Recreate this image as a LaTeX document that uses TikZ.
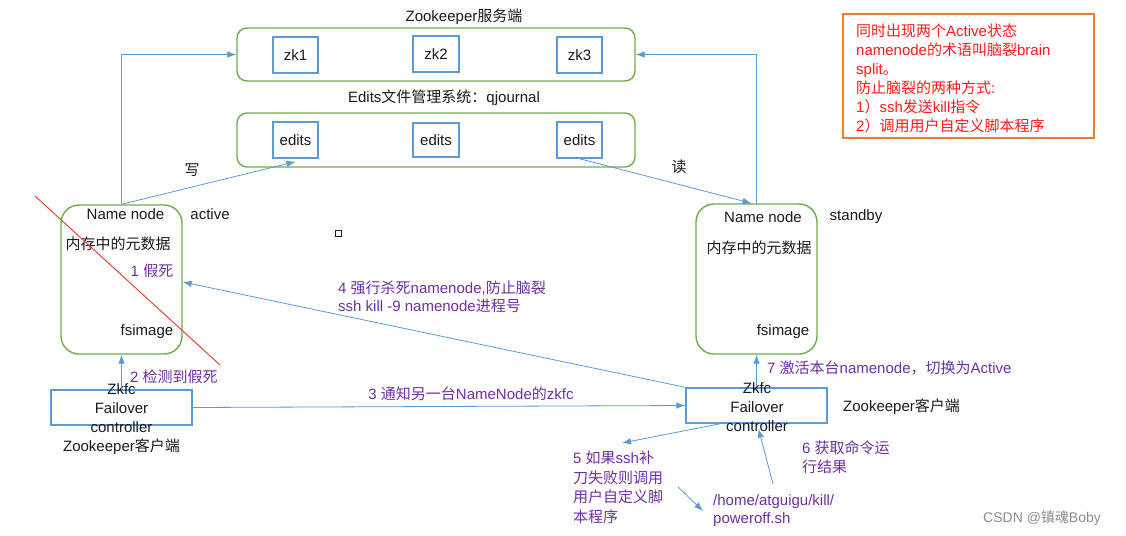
\documentclass[tikz,border=0pt]{standalone}
\usepackage{fontspec}
\setmainfont{Liberation Sans}
\newfontfamily\cjk{Noto Sans CJK SC}
\newcommand\zh[1]{{\cjk #1}}
\usetikzlibrary{arrows.meta}
\definecolor{gbox}{HTML}{70AD47}
\definecolor{bbox}{HTML}{5B9BD5}
\definecolor{bline}{HTML}{5B9BD5}
\definecolor{purp}{HTML}{7030A0}
\definecolor{notered}{HTML}{FF1A1A}
\definecolor{noteor}{HTML}{ED7D31}
\definecolor{redline}{HTML}{E8443A}
\definecolor{tblack}{HTML}{1A1A1A}
\begin{document}
\begin{tikzpicture}[x=1pt,y=-1pt,
  font=\fontsize{15}{19}\selectfont,
  container/.style={draw=gbox, line width=1.4pt, rounded corners=10pt, inner sep=0pt},
  nnbox/.style={draw=gbox, line width=1.4pt, rounded corners=18pt, inner sep=0pt, minimum width=121pt, minimum height=149pt},
  sbox/.style={draw=bbox, line width=1.4pt, inner sep=0pt, text=tblack},
  fbox/.style={draw=bbox, line width=1.4pt, inner sep=0pt, minimum width=141pt, minimum height=35pt},
  arr/.style={draw=bline, line width=0.8pt, -{Latex[length=9pt,width=6.5pt]}},
  lbl/.style={inner sep=0pt, text=tblack},
  plbl/.style={inner sep=0pt, text=purp},
]
\useasboundingbox (0,0) rectangle (1126,535);
\fill[white] (0,0) rectangle (1126,535);

% Zookeeper server
\node[lbl] (zklabel) at (464,17) {Zookeeper\zh{服务端}};
\node[container, minimum width=398pt, minimum height=53pt] (zk) at (436,54.5) {};
\node[sbox, minimum width=45pt, minimum height=36pt] (zk1) at (295.5,55) {zk1};
\node[sbox, minimum width=46pt, minimum height=36pt] (zk2) at (436,54) {zk2};
\node[sbox, minimum width=45pt, minimum height=36pt] (zk3) at (579.5,55) {zk3};

% Edits
\node[lbl] (edlabel) at (444,98) {Edits\zh{文件管理系统：}qjournal};
\node[container, minimum width=398pt, minimum height=54pt] (ed) at (436,140) {};
\node[sbox, minimum width=45pt, minimum height=36pt] (e1) at (295.5,140) {edits};
\node[sbox, minimum width=46pt, minimum height=34pt] (e2) at (436,140) {edits};
\node[sbox, minimum width=45pt, minimum height=36pt] (e3) at (579.5,140) {edits};

\node[lbl] (write) at (192,170) {\zh{写}};
\node[lbl] (read) at (679,167) {\zh{读}};

% Left namenode
\node[nnbox] (nnL) at (121.5,279.5) {};
\node[lbl] (nnLt) at (125.5,214) {Name node};
\node[lbl] (act) at (210,214) {active};
\node[lbl] (memL) at (118,244) {\zh{内存中的元数据}};
\node[plbl] (die) at (152,271) {1 \zh{假死}};
\node[lbl] (fsL) at (147,332) {fsimage};

% Right namenode
\node[nnbox, minimum height=150pt] (nnR) at (756.5,279) {};
\node[lbl] (nnRt) at (763,217) {Name node};
\node[lbl] (stb) at (856,217) {standby};
\node[lbl] (memR) at (759,248) {\zh{内存中的元数据}};
\node[lbl] (fsR) at (783,332) {fsimage};

% small square
\node[draw=tblack, line width=0.9pt, minimum size=6pt, inner sep=0pt] (sq) at (338,233) {};

% zkfc boxes
\node[fbox] (zkfcL) at (121.5,407.5) {};
\node[lbl, align=center] (zkfcLt) at (121.5,419) {Zkfc\\Failover\\controller\\Zookeeper\zh{客户端}};
\node[fbox, minimum height=35pt] (zkfcR) at (756.5,405.5) {};
\node[lbl, align=center] (zkfcRt) at (757,407.5) {Zkfc\\Failover\\controller};
\node[lbl, anchor=west] (zkcR) at (843,407) {Zookeeper\zh{客户端}};

% note
\node[draw=noteor, line width=1.4pt, minimum width=251pt, minimum height=124pt, inner sep=0pt] (note) at (968.5,76) {};
\node[inner sep=0pt, text=notered, anchor=west, align=left] (notet) at (856,78)
 {\zh{同时出现两个}Active\zh{状态}\\namenode\zh{的术语叫脑裂}brain\\split\zh{。}\\\zh{防止脑裂的两种方式}:\\1\zh{）}ssh\zh{发送}kill\zh{指令}\\2\zh{）调用用户自定义脚本程序}};

% labels
\node[plbl, anchor=west] (l2) at (130,377) {2 \zh{检测到假死}};
\node[plbl] (l3) at (471,394) {3 \zh{通知另一台}NameNode\zh{的}zkfc};
\node[plbl, anchor=west, align=left, font=\fontsize{15}{18}\selectfont] (l4) at (338,297) {4 \zh{强行杀死}namenode,\zh{防止脑裂}\\ssh kill -9 namenode\zh{进程号}};
\node[plbl, anchor=west] (l7) at (767,368) {7 \zh{激活本台}namenode\zh{，切换为}Active};
\node[plbl, anchor=west, align=left, font=\fontsize{15}{19.5}\selectfont] (l5) at (573,487.5) {5 \zh{如果}ssh\zh{补}\\\zh{刀失败则调用}\\\zh{用户自定义脚}\\\zh{本程序}};
\node[plbl, anchor=west, align=left] (l6) at (802,457.5) {6 \zh{获取命令运}\\\zh{行结果}};
\node[plbl, anchor=west, align=left, font=\fontsize{15}{18}\selectfont] (pth) at (713,511) {/home/atguigu/kill/\\poweroff.sh};
\node[inner sep=0pt, anchor=west, text=black!45, font=\fontsize{14}{16}\selectfont] (csdn) at (983,518) {CSDN @\zh{镇魂}Boby};

% red cross line
\draw[redline, line width=1pt] (35,196) -- (220,365);

% connectors
\draw[arr] (nnL.north) |- (zk.west);
\draw[arr] (nnR.north) |- (zk.east);
\draw[arr] (nnL.north) -- ([yshift=-3pt]e1.south);
\draw[arr] (e3.south) -- ([xshift=-5pt]nnR.north);
\draw[arr] (zkfcL.north) -- (nnL.south);
\draw[arr] (zkfcL.east) -- (zkfcR.west);
\draw[arr] (zkfcR.north) -- (nnR.south);
\draw[arr] (zkfcR.north west) -- ([yshift=-2.5pt]nnL.east);
\coordinate (t5) at (622,443);
\draw[arr] ([xshift=-36pt]zkfcR.south) -- (t5);
\coordinate (s5b) at (678,487);
\draw[arr] (s5b) -- ([xshift=-10pt]pth.west);
\coordinate (s6) at (773,484);
\draw[arr] (s6) -- ([xshift=2pt,yshift=-5pt]zkfcR.south);
\end{tikzpicture}
\end{document}
